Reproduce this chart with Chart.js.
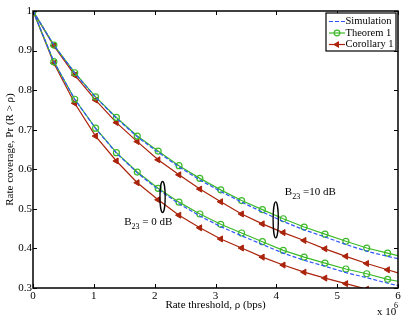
<!DOCTYPE html>
<html>
<head>
<meta charset="utf-8">
<script src="https://cdn.jsdelivr.net/npm/chart.js@4.4.0/dist/chart.umd.min.js"></script>
<style>
body { margin: 0; background: #fff; }
</style>
</head>
<body>
<canvas id="rateCoverage" width="415" height="321"></canvas>
<script>
// rate threshold in units of 10^6 bps
const rho = [0, 0.343, 0.686, 1.029, 1.371, 1.714, 2.057, 2.4, 2.743, 3.086, 3.429, 3.771, 4.114, 4.457, 4.8, 5.143, 5.486, 5.829, 6];

// B23 = 10 dB
const sim10 = [1, 0.914, 0.843, 0.782, 0.729, 0.682, 0.643, 0.606, 0.573, 0.544, 0.517, 0.492, 0.468, 0.447, 0.429, 0.410, 0.393, 0.380, 0.374];
const thm10 = [1, 0.914, 0.844, 0.783, 0.731, 0.684, 0.646, 0.609, 0.577, 0.548, 0.521, 0.498, 0.475, 0.454, 0.436, 0.418, 0.401, 0.388, 0.382];
const cor10 = [1, 0.912, 0.838, 0.775, 0.718, 0.670, 0.624, 0.586, 0.550, 0.518, 0.487, 0.462, 0.440, 0.420, 0.399, 0.380, 0.362, 0.346, 0.338];

// B23 = 0 dB
const sim0 = [1, 0.872, 0.777, 0.703, 0.641, 0.591, 0.549, 0.513, 0.482, 0.455, 0.432, 0.410, 0.388, 0.370, 0.355, 0.339, 0.326, 0.312, 0.306];
const thm0 = [1, 0.872, 0.777, 0.704, 0.642, 0.593, 0.552, 0.517, 0.487, 0.461, 0.439, 0.417, 0.395, 0.378, 0.363, 0.348, 0.336, 0.322, 0.317];
const cor0 = [1, 0.868, 0.767, 0.684, 0.621, 0.566, 0.523, 0.484, 0.452, 0.424, 0.401, 0.378, 0.358, 0.340, 0.325, 0.311, 0.297, 0.284, 0.278];

const xTicks = [0, 1, 2, 3, 4, 5, 6];
const yTicks = [0.3, 0.4, 0.5, 0.6, 0.7, 0.8, 0.9, 1];

const blue = 'rgb(45, 85, 255)';
const green = 'rgb(60, 185, 40)';
const red = 'rgb(170, 35, 10)';
const serif = '"Liberation Serif", "Times New Roman", serif';

function pts(ys) {
    return ys.map((y, i) => ({ x: rho[i], y: y }));
}
// marker on every point except the last one at rho = 6
const markR = (r) => rho.map((v, i) => i === rho.length - 1 ? 0 : r);

function simSet(ys) {
    return { label: 'Simulation', data: pts(ys), borderColor: blue, borderWidth: 1.2, borderDash: [4, 2], pointRadius: 0 };
}
function thmSet(ys) {
    return { label: 'Theorem 1', data: pts(ys), borderColor: green, borderWidth: 1.2, pointStyle: 'circle',
        pointRadius: markR(3), pointBorderColor: green, pointBackgroundColor: 'rgba(255,255,255,0)', pointBorderWidth: 1.2 };
}
function corSet(ys) {
    return { label: 'Corollary 1', data: pts(ys), borderColor: red, borderWidth: 1.2, pointStyle: 'triangle', rotation: -90,
        pointRadius: markR(3.5), pointBorderColor: red, pointBackgroundColor: red, pointBorderWidth: 1 };
}

// ticks inside the box, full frame, legend box, annotations
const matlabLook = {
    id: 'matlabLook',
    afterDatasetsDraw(chart) {
        const c = chart.ctx;
        const a = chart.chartArea;
        const xs = chart.scales.x, ys = chart.scales.y;
        c.save();
        c.strokeStyle = '#000';
        c.lineWidth = 1;
        xTicks.forEach(t => {
            const px = Math.round(xs.getPixelForValue(t)) + 0.5;
            c.beginPath();
            c.moveTo(px, a.bottom); c.lineTo(px, a.bottom - 4);
            c.moveTo(px, a.top); c.lineTo(px, a.top + 4);
            c.stroke();
        });
        yTicks.forEach(t => {
            const py = Math.round(ys.getPixelForValue(t)) + 0.5;
            c.beginPath();
            c.moveTo(a.left, py); c.lineTo(a.left + 4, py);
            c.moveTo(a.right, py); c.lineTo(a.right - 4, py);
            c.stroke();
        });
        c.lineWidth = 1.5;
        c.strokeRect(a.left, a.top, a.right - a.left, a.bottom - a.top);

        // ellipses grouping the curves
        c.lineWidth = 1.3;
        c.beginPath();
        c.ellipse(xs.getPixelForValue(2.13), ys.getPixelForValue(0.530), 2.6, 15.5, 0, 0, Math.PI * 2);
        c.stroke();
        c.beginPath();
        c.ellipse(xs.getPixelForValue(3.99), ys.getPixelForValue(0.472), 2.6, 18, 0, 0, Math.PI * 2);
        c.stroke();

        // B23 labels
        function bLabel(x, y, rest) {
            let px = xs.getPixelForValue(x);
            const py = ys.getPixelForValue(y);
            c.fillStyle = '#000';
            c.textBaseline = 'middle';
            c.textAlign = 'left';
            c.font = '11px ' + serif;
            c.fillText('B', px, py);
            px += c.measureText('B').width;
            c.font = '8px ' + serif;
            c.fillText('23', px, py + 5);
            px += c.measureText('23').width;
            c.font = '11px ' + serif;
            c.fillText(rest, px, py);
        }
        bLabel(1.50, 0.466, ' = 0 dB');
        bLabel(4.14, 0.543, ' =10 dB');

        // x 10^6 multiplier
        c.font = '11px ' + serif;
        c.fillText('x 10', 377, 312);
        c.font = '8px ' + serif;
        c.fillText('6', 394, 306);

        // legend
        const lw = 70, lh = 38;
        const lx = a.right - lw - 2, ly = a.top + 2;
        c.fillStyle = '#fff';
        c.fillRect(lx, ly, lw, lh);
        c.lineWidth = 1.2;
        c.strokeStyle = '#000';
        c.strokeRect(lx, ly, lw, lh);
        const items = [chart.data.datasets[0], chart.data.datasets[1], chart.data.datasets[2]];
        items.forEach((ds, i) => {
            const yy = ly + 8.5 + i * 11.5;
            c.strokeStyle = ds.borderColor;
            c.lineWidth = 1.2;
            c.setLineDash(ds.borderDash || []);
            c.beginPath();
            c.moveTo(lx + 3, yy); c.lineTo(lx + 19, yy);
            c.stroke();
            c.setLineDash([]);
            if (ds.pointStyle) {
                c.fillStyle = ds.pointBackgroundColor;
                c.strokeStyle = ds.pointBorderColor;
                Chart.helpers.drawPoint(c, {
                    pointStyle: ds.pointStyle, radius: 2.8, rotation: ds.rotation || 0, borderWidth: 1.2
                }, lx + 11, yy);
            }
            c.fillStyle = '#000';
            c.font = '10.5px ' + serif;
            c.textAlign = 'left';
            c.textBaseline = 'middle';
            c.fillText(ds.label, lx + 19.5, yy);
        });
        c.restore();
    }
};

const ctx = document.getElementById('rateCoverage');
const rateChart = new Chart(ctx, {
    type: 'line',
    data: {
        datasets: [
            simSet(sim10), thmSet(thm10), corSet(cor10),
            simSet(sim0), thmSet(thm0), corSet(cor0)
        ]
    },
    options: {
        responsive: false,
        animation: false,
        layout: { padding: { left: 0, right: 17, top: 11, bottom: 9 } },
        plugins: { legend: { display: false }, tooltip: { enabled: false } },
        elements: { line: { tension: 0 } },
        scales: {
            x: {
                type: 'linear',
                min: 0,
                max: 6,
                afterFit: (s) => { s.height = 24; },
                afterBuildTicks: (s) => { s.ticks = xTicks.map(v => ({ value: v })); },
                grid: { display: false, drawTicks: false },
                border: { display: false },
                ticks: { padding: 2, color: '#000', font: { family: serif, size: 11 }, maxRotation: 0,
                    callback: (v) => String(v) },
                title: { display: true, text: 'Rate threshold, ρ (bps)', color: '#000', padding: 0,
                    font: { family: serif, size: 11 } }
            },
            y: {
                min: 0.3,
                max: 1,
                afterFit: (s) => { s.width = 33; },
                afterBuildTicks: (s) => { s.ticks = yTicks.map(v => ({ value: v })); },
                grid: { display: false, drawTicks: false },
                border: { display: false },
                ticks: { padding: 1, color: '#000', font: { family: serif, size: 11 },
                    callback: (v) => v === 1 ? '1' : v.toFixed(1) },
                title: { display: true, text: 'Rate coverage, Pr (R > ρ)', color: '#000', padding: { top: 4, bottom: 0 },
                    font: { family: serif, size: 11 } }
            }
        }
    },
    plugins: [matlabLook]
});
</script>
</body>
</html>
